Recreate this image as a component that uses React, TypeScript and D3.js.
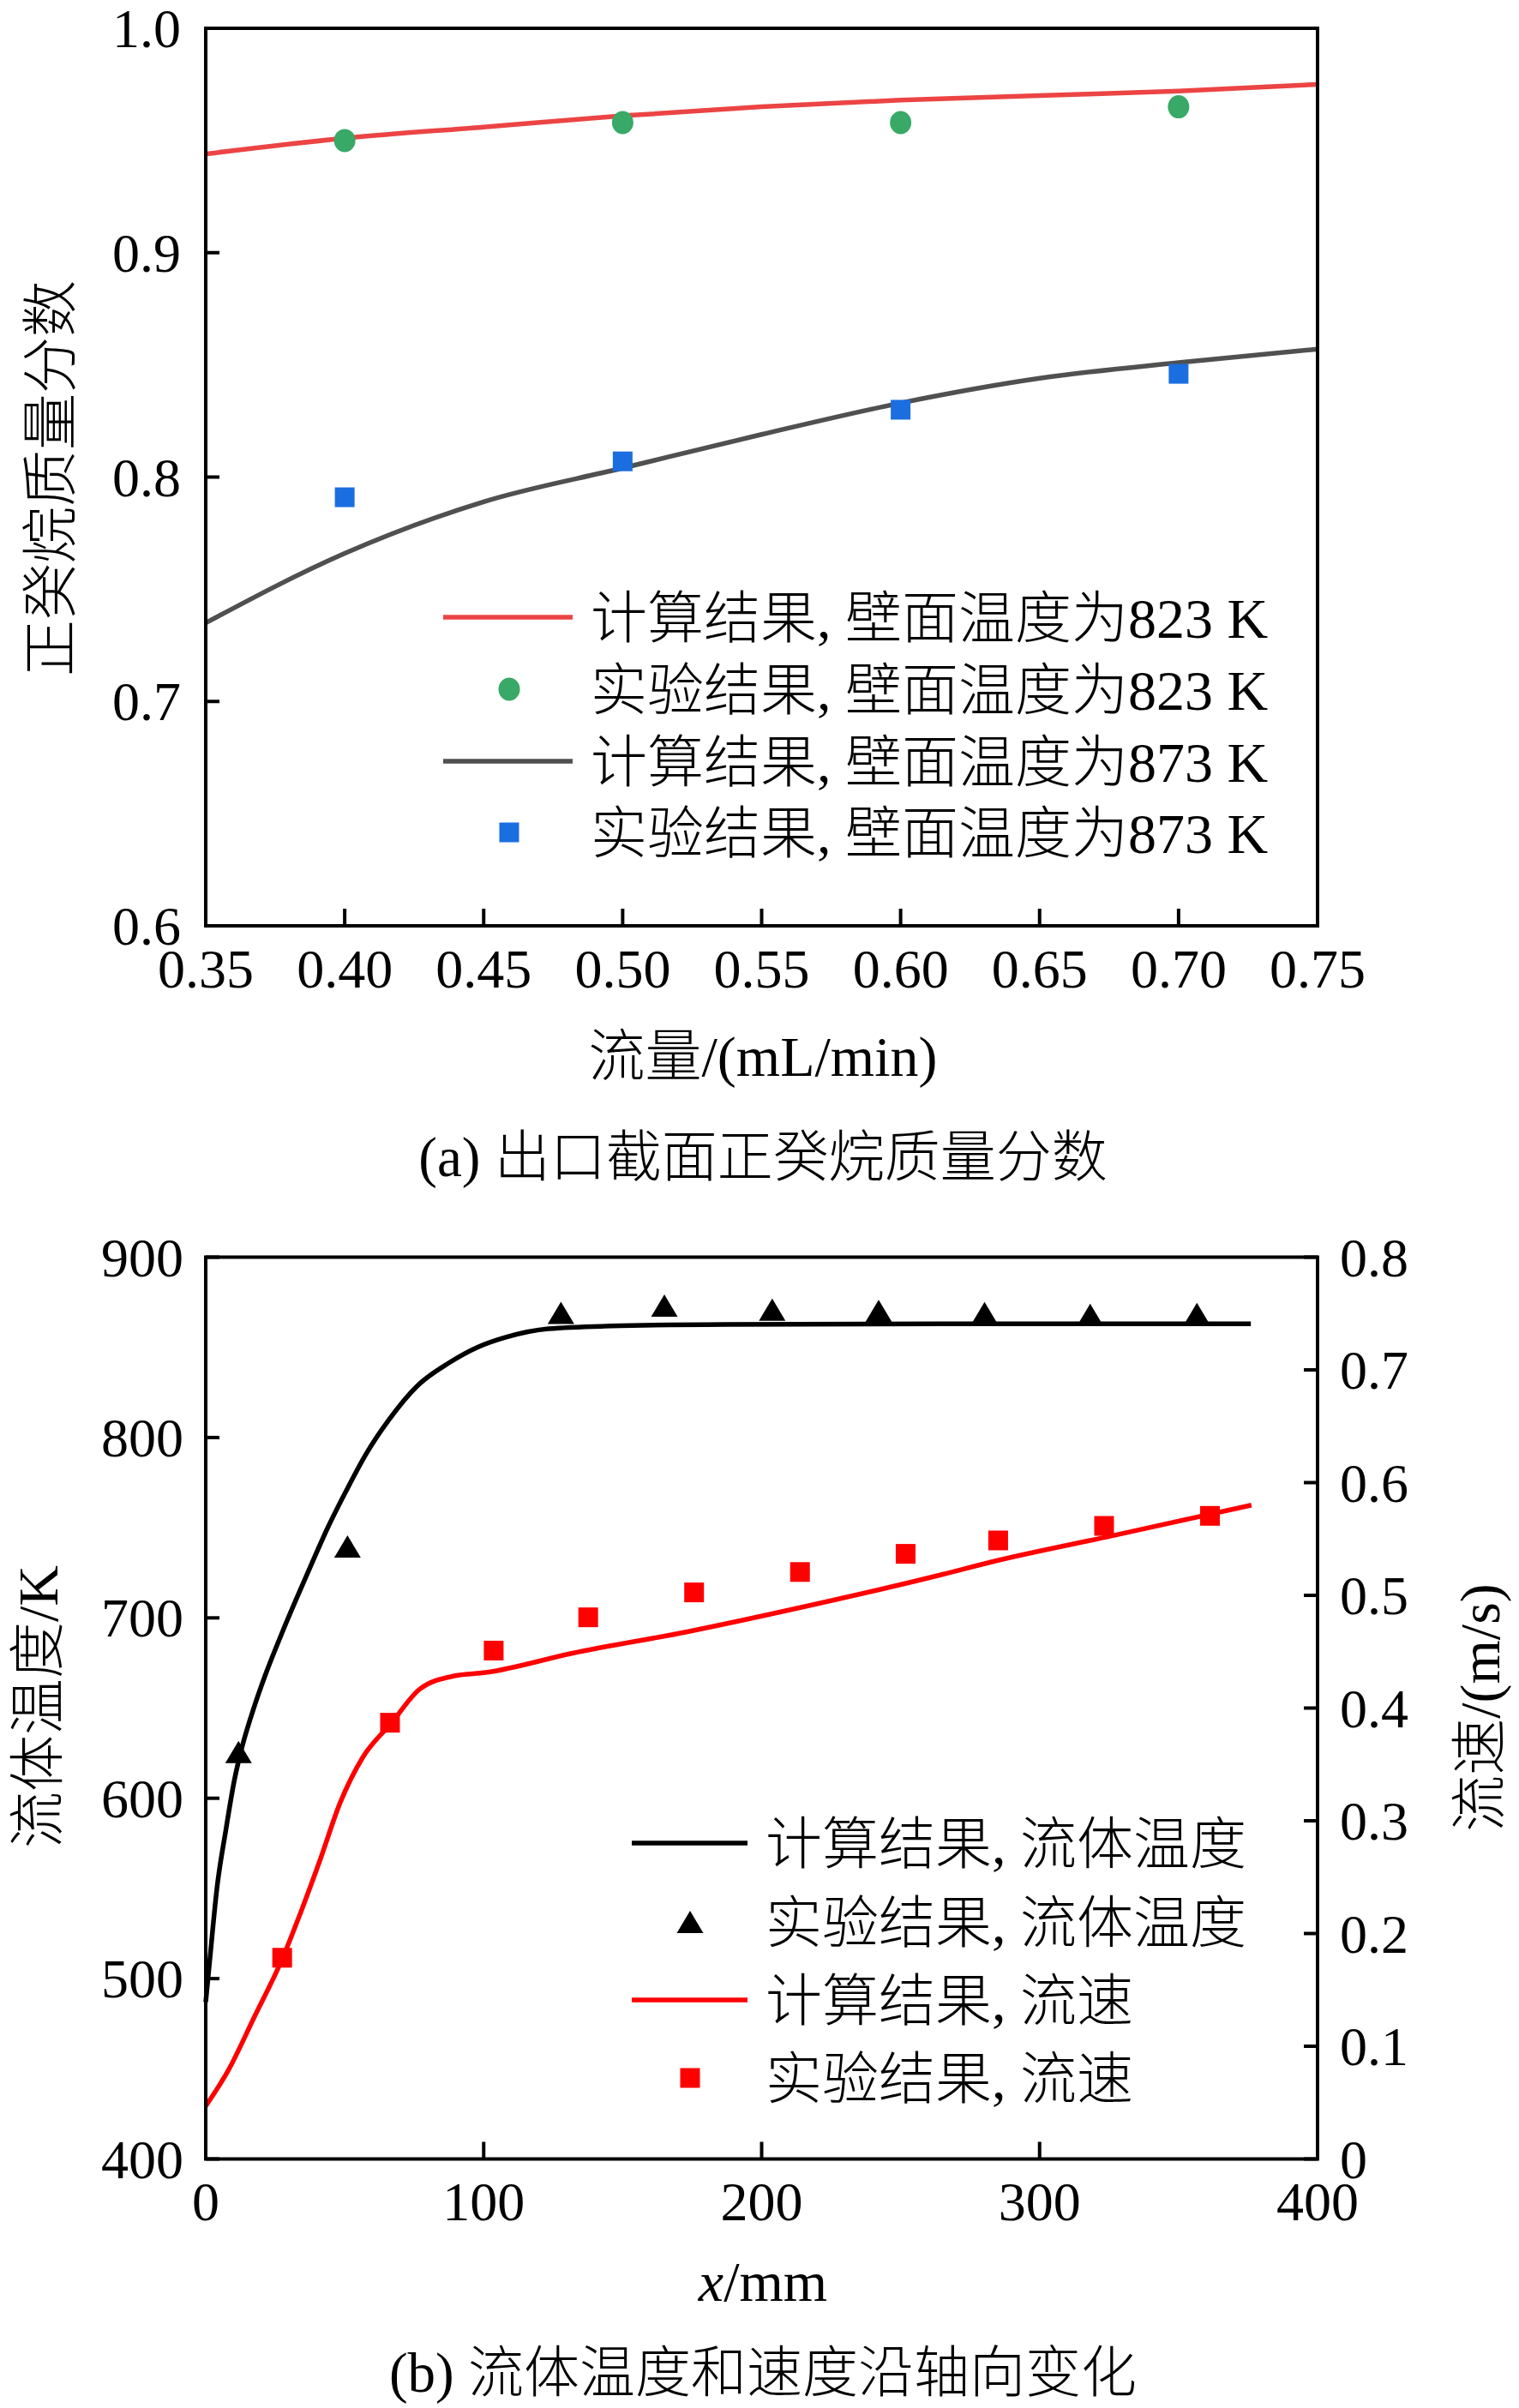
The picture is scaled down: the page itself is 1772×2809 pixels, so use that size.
import React from "react";
import * as d3 from "d3";

// ---------- Panel (a) data ----------
const flowCalc = [0.35, 0.4, 0.45, 0.5, 0.55, 0.6, 0.65, 0.7, 0.75];
const calc823 = [0.944, 0.951, 0.956, 0.961, 0.965, 0.968, 0.97, 0.972, 0.975];
const calc873 = [0.735, 0.766, 0.789, 0.804, 0.819, 0.833, 0.844, 0.851, 0.857];
const flowExp = [0.4, 0.5, 0.6, 0.7];
const exp823 = [0.95, 0.958, 0.958, 0.965];
const exp873 = [0.791, 0.807, 0.83, 0.846];
const aXTicks = [0.35, 0.4, 0.45, 0.5, 0.55, 0.6, 0.65, 0.7, 0.75];
const aYTicks = [0.6, 0.7, 0.8, 0.9, 1.0];
const aLegend = [
  "计算结果, 壁面温度为823 K",
  "实验结果, 壁面温度为823 K",
  "计算结果, 壁面温度为873 K",
  "实验结果, 壁面温度为873 K",
];

// ---------- Panel (b) data ----------
const posCalcT = [0, 1.5, 4.1, 7.2, 10.3, 13, 17.5, 21.6, 27.8, 36, 44.2, 51.4, 57.6, 65.8, 76.1, 87.4, 97.7, 108, 123.4, 145.7, 187, 265, 376];
const tempCalc = [487, 511, 551, 582, 610, 628, 651, 669, 693, 722.5, 751, 773, 790.6, 809.6, 828.6, 841.3, 850, 855.6, 860.3, 861.8, 862.7, 863, 863];
const posExpT = [11.8, 51, 127.8, 165, 203.8, 242.1, 280.2, 318.2, 356.6];
const tempExp = [625.6, 739.6, 869.1, 873.1, 870.9, 870.2, 869, 868, 868.5];
const posCalcV = [0, 8.2, 17.5, 27.8, 33.9, 41.1, 48.3, 56.5, 66.8, 77.1, 89.4, 100.7, 132, 173.3, 214.6, 265.2, 282.4, 326, 376.2];
const velCalc = [0.047, 0.079, 0.126, 0.179, 0.217, 0.265, 0.3157, 0.3563, 0.3867, 0.417, 0.4285, 0.4315, 0.4487, 0.4677, 0.4895, 0.5186, 0.5295, 0.5528, 0.58];
const posExpV = [27.5, 66.3, 103.6, 137.6, 175.7, 213.8, 251.8, 285.1, 323.2, 361.3];
const velExp = [0.1785, 0.387, 0.451, 0.4805, 0.5026, 0.5207, 0.5368, 0.5487, 0.5616, 0.5705];
const bXTicks = [0, 100, 200, 300, 400];
const bYLeftTicks = [400, 500, 600, 700, 800, 900];
const bYRightTicks = [0, 0.1, 0.2, 0.3, 0.4, 0.5, 0.6, 0.7, 0.8];
const bLegend = ["计算结果, 流体温度", "实验结果, 流体温度", "计算结果, 流速", "实验结果, 流速"];

const FONT = '"Liberation Serif", "Times New Roman", "Noto Sans CJK SC", serif';
const C_RED_A = "#ec4444";
const C_GREEN = "#38a966";
const C_BLUE = "#1b6ee0";
const C_GRAY = "#505050";
const C_RED_B = "#ff0000";

function tri(cx: number, cy: number, w = 31, h = 26) {
  return `M${cx},${cy - h / 2}L${cx + w / 2},${cy + h / 2}L${cx - w / 2},${cy + h / 2}Z`;
}

export default function App() {
  const L = 240, R = 1537;
  const xA = d3.scaleLinear().domain([0.35, 0.75]).range([L, R]);
  const yA = d3.scaleLinear().domain([0.6, 1.0]).range([1080, 33]);
  const xB = d3.scaleLinear().domain([0, 400]).range([L, R]);
  const yBL = d3.scaleLinear().domain([400, 900]).range([2518.5, 1466.5]);
  const yBR = d3.scaleLinear().domain([0, 0.8]).range([2518.5, 1466.5]);

  const lineA = d3
    .line<[number, number]>()
    .x((d) => xA(d[0]))
    .y((d) => yA(d[1]))
    .curve(d3.curveMonotoneX);
  const lineBT = d3
    .line<[number, number]>()
    .x((d) => xB(d[0]))
    .y((d) => yBL(d[1]))
    .curve(d3.curveMonotoneX);
  const lineBV = d3
    .line<[number, number]>()
    .x((d) => xB(d[0]))
    .y((d) => yBR(d[1]))
    .curve(d3.curveMonotoneX);

  const p823 = flowCalc.map((x, i) => [x, calc823[i]] as [number, number]);
  const p873 = flowCalc.map((x, i) => [x, calc873[i]] as [number, number]);
  const pT = posCalcT.map((x, i) => [x, tempCalc[i]] as [number, number]);
  const pV = posCalcV.map((x, i) => [x, velCalc[i]] as [number, number]);

  const tickFS = 64;
  const legFS = 66;
  const titleFS = 66;
  const capFS = 65;
  const axW = 4;
  const fw = 300;

  const aTop = yA(1.0), aBot = yA(0.6);
  const bTop = yBL(900), bBot = yBL(400);

  const aRows = [720, 804, 888, 971];
  const bRows = [2150, 2242, 2333, 2424];

  return (
    <svg
      width={1772}
      height={2809}
      viewBox="0 0 1772 2809"
      style={{ position: "absolute", left: 0, top: 0, background: "#fff" }}
      fontFamily={FONT}
    >
      <rect x={0} y={0} width={1772} height={2809} fill="#fff" />

      {/* ================= Panel (a) ================= */}
      <g>
        <path d={lineA(p823) || ""} fill="none" stroke={C_RED_A} strokeWidth={5.5} />
        <path d={lineA(p873) || ""} fill="none" stroke={C_GRAY} strokeWidth={5.5} />
        {flowExp.map((x, i) => (
          <ellipse key={"g" + i} cx={xA(x)} cy={yA(exp823[i])} rx={12.5} ry={13.5} fill={C_GREEN} />
        ))}
        {flowExp.map((x, i) => (
          <rect key={"b" + i} x={xA(x) - 11.5} y={yA(exp873[i]) - 11.5} width={23} height={23} fill={C_BLUE} />
        ))}

        <rect x={L} y={aTop} width={R - L} height={aBot - aTop} fill="none" stroke="#000" strokeWidth={axW} />
        {aXTicks.map((t) => (
          <line key={"axt" + t} x1={xA(t)} x2={xA(t)} y1={aBot} y2={aBot - 20} stroke="#000" strokeWidth={axW} />
        ))}
        {aYTicks.map((t) => (
          <line key={"ayt" + t} x1={L} x2={L + 16} y1={yA(t)} y2={yA(t)} stroke="#000" strokeWidth={axW} />
        ))}
        {aXTicks.map((t) => (
          <text key={"axl" + t} x={xA(t)} y={1152} fontSize={tickFS} textAnchor="middle">
            {d3.format(".2f")(t)}
          </text>
        ))}
        {aYTicks.map((t) => (
          <text key={"ayl" + t} x={211} y={yA(t) + 22} fontSize={tickFS} textAnchor="end">
            {d3.format(".1f")(t)}
          </text>
        ))}

        <line x1={517} x2={668} y1={aRows[0]} y2={aRows[0]} stroke={C_RED_A} strokeWidth={5.5} />
        <ellipse cx={594} cy={aRows[1]} rx={12.5} ry={13.5} fill={C_GREEN} />
        <line x1={517} x2={668} y1={aRows[2]} y2={aRows[2]} stroke={C_GRAY} strokeWidth={5.5} />
        <rect x={594 - 11.5} y={aRows[3] - 11.5} width={23} height={23} fill={C_BLUE} />
        {aLegend.map((s, i) => (
          <text key={"al" + i} x={689} y={aRows[i] + 24} fontSize={legFS} fontWeight={fw}>
            {s}
          </text>
        ))}

        <text x={890} y={1255} fontSize={titleFS} textAnchor="middle" fontWeight={fw}>
          流量/(mL/min)
        </text>
        <text
          transform={`translate(${58 + 24},${558}) rotate(-90)`}
          fontSize={titleFS}
          textAnchor="middle"
          fontWeight={fw}
        >
          正癸烷质量分数
        </text>
        <text x={890} y={1372} fontSize={capFS} textAnchor="middle" fontWeight={fw}>
          (a) 出口截面正癸烷质量分数
        </text>
      </g>

      {/* ================= Panel (b) ================= */}
      <g>
        <path d={lineBT(pT) || ""} fill="none" stroke="#000" strokeWidth={5.5} />
        <path d={lineBV(pV) || ""} fill="none" stroke={C_RED_B} strokeWidth={5.5} />
        {posExpT.map((x, i) => (
          <path key={"t" + i} d={tri(xB(x), yBL(tempExp[i]))} fill="#000" />
        ))}
        {posExpV.map((x, i) => (
          <rect key={"v" + i} x={xB(x) - 11.5} y={yBR(velExp[i]) - 11.5} width={23} height={23} fill={C_RED_B} />
        ))}

        <rect x={L} y={bTop} width={R - L} height={bBot - bTop} fill="none" stroke="#000" strokeWidth={axW} />
        {bXTicks.map((t) => (
          <line key={"bxt" + t} x1={xB(t)} x2={xB(t)} y1={bBot} y2={bBot - 20} stroke="#000" strokeWidth={axW} />
        ))}
        {bYLeftTicks.map((t) => (
          <line key={"blt" + t} x1={L} x2={L + 16} y1={yBL(t)} y2={yBL(t)} stroke="#000" strokeWidth={axW} />
        ))}
        {bYRightTicks.map((t) => (
          <line key={"brt" + t} x1={R} x2={R - 16} y1={yBR(t)} y2={yBR(t)} stroke="#000" strokeWidth={axW} />
        ))}
        {bXTicks.map((t) => (
          <text key={"bxl" + t} x={xB(t)} y={2590} fontSize={tickFS} textAnchor="middle">
            {String(t)}
          </text>
        ))}
        {bYLeftTicks.map((t) => (
          <text key={"bll" + t} x={214} y={yBL(t) + 22} fontSize={tickFS} textAnchor="end">
            {String(t)}
          </text>
        ))}
        {bYRightTicks.map((t) => (
          <text key={"brl" + t} x={1563} y={yBR(t) + 22} fontSize={tickFS} textAnchor="start">
            {t === 0 ? "0" : d3.format(".1f")(t)}
          </text>
        ))}

        <line x1={737} x2={872} y1={bRows[0]} y2={bRows[0]} stroke="#000" strokeWidth={5.5} />
        <path d={tri(805, bRows[1])} fill="#000" />
        <line x1={737} x2={872} y1={bRows[2]} y2={bRows[2]} stroke={C_RED_B} strokeWidth={5.5} />
        <rect x={805 - 11.5} y={bRows[3] - 11.5} width={23} height={23} fill={C_RED_B} />
        {bLegend.map((s, i) => (
          <text key={"bl" + i} x={893} y={bRows[i] + 24} fontSize={legFS} fontWeight={fw}>
            {s}
          </text>
        ))}

        <text x={890} y={2684} fontSize={titleFS} textAnchor="middle">
          <tspan fontStyle="italic">x</tspan>/mm
        </text>
        <text
          transform={`translate(${43 + 24},${1991}) rotate(-90)`}
          fontSize={titleFS}
          textAnchor="middle"
          fontWeight={fw}
        >
          流体温度/K
        </text>
        <text
          transform={`translate(${1725 + 24},${1992}) rotate(-90)`}
          fontSize={titleFS}
          textAnchor="middle"
          fontWeight={fw}
        >
          流速/(m/s)
        </text>
        <text x={890} y={2790} fontSize={capFS} textAnchor="middle" fontWeight={fw}>
          (b) 流体温度和速度沿轴向变化
        </text>
      </g>
    </svg>
  );
}
